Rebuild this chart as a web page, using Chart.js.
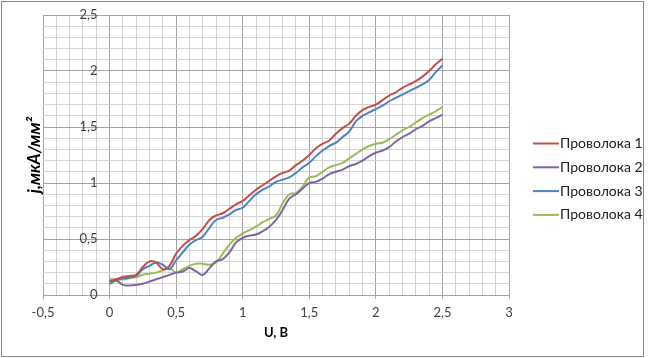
<!DOCTYPE html>
<html>
<head>
<meta charset="utf-8">
<script src="https://cdn.jsdelivr.net/npm/chart.js@4.4.1/dist/chart.umd.min.js"></script>
<style>
    body { margin: 0; background: #fff; }
    .frame { position: absolute; left: 1px; top: 1px; width: 641px; height: 354px; border: 1px solid #868686; }
    #chart { position: absolute; left: 0; top: 0; }
</style>
</head>
<body>
<div class="frame"></div>
<canvas id="chart" width="649" height="358"></canvas>
<script>
const seriesNames = ['Проволока 1', 'Проволока 2', 'Проволока 3', 'Проволока 4'];
const seriesColors = ['#C0504D', '#8064A2', '#4F81BD', '#9BBB59'];

const uValues = [0, 0.05, 0.1, 0.15, 0.2, 0.25, 0.3, 0.35, 0.4, 0.45, 0.5, 0.55, 0.6, 0.65, 0.7, 0.75, 0.8, 0.85, 0.9, 0.95,
    1, 1.05, 1.1, 1.15, 1.2, 1.25, 1.3, 1.35, 1.4, 1.45, 1.5, 1.55, 1.6, 1.65, 1.7, 1.75, 1.8, 1.85, 1.9, 1.95,
    2, 2.05, 2.1, 2.15, 2.2, 2.25, 2.3, 2.35, 2.4, 2.45, 2.5];

const wire1 = [0.12, 0.14, 0.16, 0.17, 0.18, 0.25, 0.30, 0.29, 0.23, 0.26, 0.37, 0.44, 0.49, 0.53, 0.59, 0.67, 0.71, 0.73, 0.77, 0.81,
    0.84, 0.89, 0.94, 0.98, 1.02, 1.06, 1.09, 1.11, 1.16, 1.20, 1.25, 1.31, 1.35, 1.38, 1.44, 1.49, 1.53, 1.60, 1.65, 1.68,
    1.70, 1.74, 1.78, 1.81, 1.85, 1.88, 1.91, 1.95, 2.00, 2.06, 2.11];
const wire2 = [0.12, 0.13, 0.09, 0.085, 0.09, 0.10, 0.12, 0.14, 0.16, 0.18, 0.20, 0.21, 0.24, 0.21, 0.18, 0.24, 0.30, 0.32, 0.38, 0.47,
    0.51, 0.53, 0.54, 0.57, 0.61, 0.67, 0.76, 0.86, 0.90, 0.95, 1.00, 1.01, 1.04, 1.08, 1.10, 1.12, 1.15, 1.17, 1.20, 1.24,
    1.27, 1.29, 1.32, 1.37, 1.41, 1.44, 1.48, 1.51, 1.55, 1.58, 1.61];
const wire3 = [0.10, 0.13, 0.15, 0.155, 0.17, 0.23, 0.26, 0.29, 0.27, 0.23, 0.31, 0.38, 0.45, 0.49, 0.52, 0.60, 0.67, 0.69, 0.72, 0.76,
    0.78, 0.84, 0.90, 0.94, 0.97, 1.01, 1.03, 1.05, 1.09, 1.14, 1.18, 1.24, 1.29, 1.33, 1.36, 1.41, 1.46, 1.55, 1.60, 1.63,
    1.66, 1.69, 1.73, 1.76, 1.79, 1.82, 1.85, 1.88, 1.92, 1.99, 2.05];
const wire4 = [0.14, 0.14, 0.14, 0.15, 0.16, 0.18, 0.19, 0.20, 0.22, 0.24, 0.20, 0.23, 0.26, 0.28, 0.28, 0.27, 0.29, 0.37, 0.45, 0.51,
    0.55, 0.58, 0.61, 0.65, 0.68, 0.71, 0.82, 0.90, 0.91, 0.97, 1.05, 1.06, 1.10, 1.14, 1.16, 1.18, 1.22, 1.26, 1.30, 1.33,
    1.35, 1.36, 1.39, 1.43, 1.47, 1.50, 1.54, 1.58, 1.61, 1.64, 1.68];

const yTickLabels = [0, 0.5, 1, 1.5, 2, 2.5];

const FONT = 'Lato';
const MAJOR = '#a3a3a3';
const MINOR = '#d4d4d4';

const fmt = (v) => String(v).replace('.', ',');
const isMajor = (v) => Math.abs(v * 2 - Math.round(v * 2)) < 1e-6;

const overlay = {
    id: 'overlay',
    afterDraw(chart) {
        const { ctx, scales: { x, y } } = chart;
        ctx.save();
        ctx.font = `13px ${FONT}`;
        ctx.fillStyle = '#404040';
        ctx.textAlign = 'right';
        ctx.textBaseline = 'middle';
        const x0 = x.getPixelForValue(0);
        yTickLabels.forEach((v) => ctx.fillText(fmt(v), x0 - 12, y.getPixelForValue(v)));

        // legend
        ctx.font = `14px ${FONT}`;
        ctx.textAlign = 'left';
        ctx.fillStyle = '#222';
        chart.data.datasets.forEach((ds, i) => {
            const ly = 143.5 + i * 23.8;
            ctx.strokeStyle = ds.borderColor;
            ctx.lineWidth = 2;
            ctx.beginPath();
            ctx.moveTo(533, ly);
            ctx.lineTo(559, ly);
            ctx.stroke();
            ctx.fillText(ds.label, 560, ly);
        });
        ctx.restore();
    },
};

const seriesData = [wire1, wire2, wire3, wire4];

new Chart(document.getElementById('chart'), {
    type: 'line',
    data: {
        datasets: seriesData.map((vals, i) => ({
            label: seriesNames[i],
            data: vals.map((v, k) => ({ x: uValues[k], y: v })),
            borderColor: seriesColors[i],
            backgroundColor: seriesColors[i],
            borderWidth: 2,
            pointRadius: 0,
            tension: 0.4,
            fill: false,
        })),
    },
    options: {
        responsive: false,
        animation: false,
        events: [],
        layout: { padding: { left: 0, top: 15, right: 140, bottom: 0 } },
        plugins: {
            legend: { display: false },
            tooltip: { enabled: false },
        },
        scales: {
            x: {
                type: 'linear',
                min: -0.5,
                max: 3,
                afterFit: (s) => { s.height = 63; },
                border: { display: false },
                grid: {
                    color: (c) => (isMajor(c.tick.value) ? MAJOR : MINOR),
                    tickColor: (c) => (isMajor(c.tick.value) ? MAJOR : 'rgba(0,0,0,0)'),
                    tickLength: 4,
                },
                ticks: {
                    stepSize: 0.1,
                    autoSkip: false,
                    maxRotation: 0,
                    padding: 6,
                    color: '#404040',
                    font: { family: FONT, size: 13 },
                    callback: (v) => (isMajor(v) ? fmt(Math.round(v * 2) / 2) : ''),
                },
                title: {
                    display: true,
                    text: 'U, B',
                    color: '#000',
                    font: { family: FONT, size: 13, weight: 'bold' },
                    padding: { top: 0, bottom: 17 },
                },
            },
            y: {
                min: 0,
                max: 2.5,
                afterFit: (s) => { s.width = 43; },
                border: { display: false },
                grid: {
                    color: (c) => (isMajor(c.tick.value) ? MAJOR : MINOR),
                    drawTicks: false,
                },
                ticks: { stepSize: 0.1, autoSkip: false, display: false },
                title: {
                    display: true,
                    text: 'j,мкА/мм²',
                    color: '#000',
                    font: { family: FONT, size: 17, weight: 'bold', style: 'italic' },
                    padding: { top: 24, bottom: 0 },
                },
            },
        },
    },
    plugins: [overlay],
});
</script>
</body>
</html>
